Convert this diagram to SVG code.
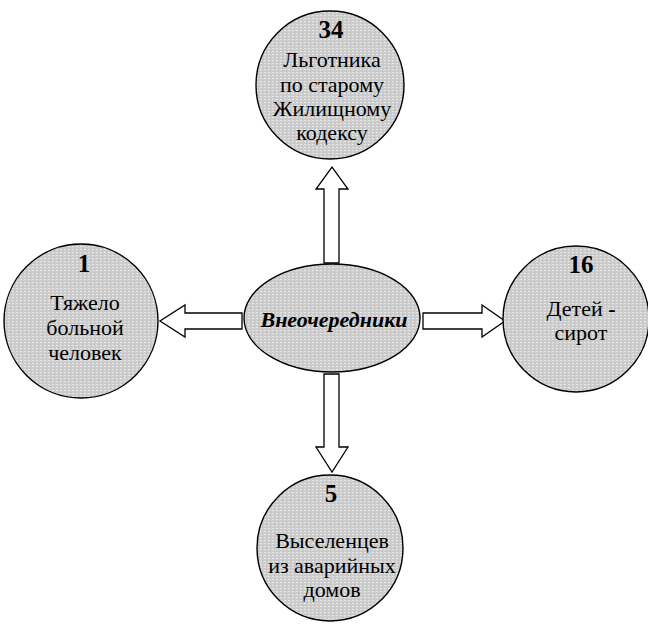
<svg xmlns="http://www.w3.org/2000/svg" width="648" height="626" viewBox="0 0 648 626">
<defs>
<pattern id="dots" width="4" height="3" patternUnits="userSpaceOnUse">
<rect width="4" height="3" fill="#cdcdcd"/>
<rect x="0" y="0" width="2" height="1" fill="#e6e6e6"/>
<rect x="2" y="2" width="1" height="1" fill="#bdbdbd"/>
</pattern>
</defs>
<style>
.node{fill:url(#dots);stroke:#000;stroke-width:1.4}
.arrow{fill:#fff;stroke:#000;stroke-width:1.3}
text{font-family:'Liberation Serif','Tinos','Times New Roman',serif;fill:#000;text-anchor:middle}
.num{font-size:25px;font-weight:bold}
.lbl{font-size:22px}
.center{font-size:22px;font-weight:bold;font-style:italic}
</style>
<rect width="648" height="626" fill="#fff"/>
<g id="connectors">
<polygon class="arrow" points="324,263 324,189 316,189 332,167 348,189 339,189 339,263"/>
<polygon class="arrow" points="324,374 324,447 316,447 332,472 348,447 339,447 339,374"/>
<polygon class="arrow" points="242,313 185,313 185,305 160,321 185,337 185,329 242,329"/>
<polygon class="arrow" points="423,313 482,313 482,305 505,321 482,337 482,329 423,329"/>
</g>
<g id="center">
<ellipse class="node" cx="332" cy="318" rx="88" ry="54"/>
<text class="center" x="334" y="327">Внеочередники</text>
</g>
<g id="top">
<circle class="node" cx="330" cy="85" r="74"/>
<text class="num" x="331" y="38">34</text>
<text class="lbl" x="332" y="67">Льготника</text>
<text class="lbl" x="332" y="92">по старому</text>
<text class="lbl" x="332" y="116">Жилищному</text>
<text class="lbl" x="332" y="140">кодексу</text>
</g>
<g id="left">
<circle class="node" cx="81" cy="321" r="77"/>
<text class="num" x="84" y="272">1</text>
<text class="lbl" x="85" y="310">Тяжело</text>
<text class="lbl" x="85" y="335">больной</text>
<text class="lbl" x="85" y="360">человек</text>
</g>
<g id="right">
<circle class="node" cx="576" cy="319" r="73"/>
<text class="num" x="581" y="273">16</text>
<text class="lbl" x="581" y="316">Детей <tspan font-weight="bold">-</tspan></text>
<text class="lbl" x="581" y="340">сирот</text>
</g>
<g id="bottom">
<circle class="node" cx="330" cy="548" r="73"/>
<text class="num" x="331" y="502">5</text>
<text class="lbl" x="332" y="548">Выселенцев</text>
<text class="lbl" x="332" y="573">из аварийных</text>
<text class="lbl" x="332" y="597">домов</text>
</g>
</svg>
